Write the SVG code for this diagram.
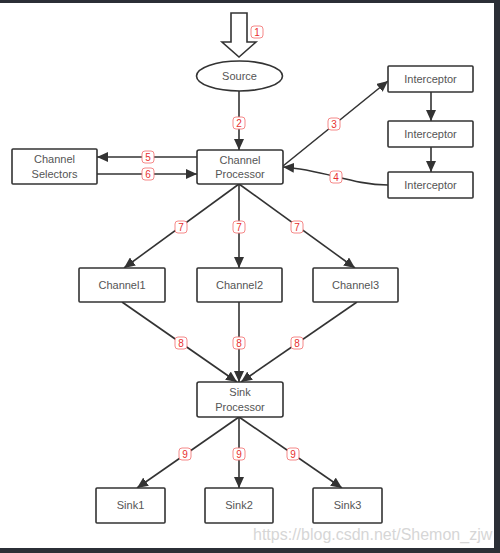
<svg xmlns="http://www.w3.org/2000/svg" width="500" height="553" viewBox="0 0 500 553">
<style>
.box{fill:#fff;stroke:#333;stroke-width:1.6}
.t{font-family:"Liberation Sans",Arial,sans-serif;font-size:11px;fill:#555;text-anchor:middle}
.ln{fill:none;stroke:#333;stroke-width:1.6}
.nb{fill:#fff;stroke:#f47a7a;stroke-width:0.9}
.nt{font-family:"Liberation Sans",Arial,sans-serif;font-size:10px;fill:#e83030;text-anchor:middle}
</style>
<defs>
<marker id="ah" markerUnits="userSpaceOnUse" markerWidth="12" markerHeight="10" refX="11" refY="5" orient="auto">
<path d="M0,0 L11,5 L0,10 z" fill="#333"/>
</marker>
</defs>
<rect x="0" y="0" width="500" height="553" fill="#fff"/>
<rect x="0" y="0" width="500" height="3" fill="#2b2f36"/>
<rect x="494" y="0" width="6" height="553" fill="#2b2f36"/>
<rect x="0" y="548" width="500" height="5" fill="#2b2f36"/>

<g id="connectors">
<path class="ln" d="M239,91 L239,150" marker-end="url(#ah)"/>
<path class="ln" d="M283,166 L388,81" marker-end="url(#ah)"/>
<path class="ln" d="M431,92 L431,121" marker-end="url(#ah)"/>
<path class="ln" d="M431,147 L431,172" marker-end="url(#ah)"/>
<path class="ln" d="M388,185 C352,185 325,170 283,167" marker-end="url(#ah)"/>
<path class="ln" d="M197,157 L97,157" marker-end="url(#ah)"/>
<path class="ln" d="M97,174 L197,174" marker-end="url(#ah)"/>
<path class="ln" d="M239,184 L124,268" marker-end="url(#ah)"/>
<path class="ln" d="M239,184 L239,268" marker-end="url(#ah)"/>
<path class="ln" d="M239,184 L355,268" marker-end="url(#ah)"/>
<path class="ln" d="M122,302 L237,382" marker-end="url(#ah)"/>
<path class="ln" d="M239,302 L239,382" marker-end="url(#ah)"/>
<path class="ln" d="M357,302 L241,382" marker-end="url(#ah)"/>
<path class="ln" d="M239,417 L137,488" marker-end="url(#ah)"/>
<path class="ln" d="M239,417 L239,488" marker-end="url(#ah)"/>
<path class="ln" d="M239,417 L342,488" marker-end="url(#ah)"/>
</g>

<g id="input-arrow">
<path d="M231,13 L247,13 L247,42 L256,42 L239,57 L222,42 L231,42 z" fill="#fff" stroke="#333" stroke-width="1.6" stroke-linejoin="miter"/>
</g>

<g id="labels">
<rect class="nb" x="251" y="26" width="12" height="12" rx="3"/><text class="nt" x="257" y="36">1</text>
<rect class="nb" x="233" y="117" width="12" height="12" rx="3"/><text class="nt" x="239" y="127">2</text>
<rect class="nb" x="328" y="118" width="12" height="12" rx="3"/><text class="nt" x="334" y="128">3</text>
<rect class="nb" x="330" y="171" width="12" height="12" rx="3"/><text class="nt" x="336" y="181">4</text>
<rect class="nb" x="142" y="151" width="12" height="12" rx="3"/><text class="nt" x="148" y="161">5</text>
<rect class="nb" x="142" y="168" width="12" height="12" rx="3"/><text class="nt" x="148" y="178">6</text>
<rect class="nb" x="175" y="221" width="12" height="12" rx="3"/><text class="nt" x="181" y="231">7</text>
<rect class="nb" x="233" y="221" width="12" height="12" rx="3"/><text class="nt" x="239" y="231">7</text>
<rect class="nb" x="291" y="221" width="12" height="12" rx="3"/><text class="nt" x="297" y="231">7</text>
<rect class="nb" x="175" y="337" width="12" height="12" rx="3"/><text class="nt" x="181" y="347">8</text>
<rect class="nb" x="233" y="337" width="12" height="12" rx="3"/><text class="nt" x="239" y="347">8</text>
<rect class="nb" x="291" y="337" width="12" height="12" rx="3"/><text class="nt" x="297" y="347">8</text>
<rect class="nb" x="179" y="448" width="12" height="12" rx="3"/><text class="nt" x="185" y="458">9</text>
<rect class="nb" x="233" y="448" width="12" height="12" rx="3"/><text class="nt" x="239" y="458">9</text>
<rect class="nb" x="287" y="448" width="12" height="12" rx="3"/><text class="nt" x="293" y="458">9</text>
</g>

<g id="source"><ellipse class="box" cx="239.5" cy="76" rx="43" ry="15"/><text class="t" x="239.5" y="80">Source</text></g>
<g id="channel-processor"><rect class="box" x="197" y="150" width="86" height="34" rx="2"/><text class="t" x="240" y="164">Channel</text><text class="t" x="240" y="178">Processor</text></g>
<g id="channel-selectors"><rect class="box" x="12" y="149" width="85" height="35" rx="1"/><text class="t" x="54.5" y="163">Channel</text><text class="t" x="54.5" y="178">Selectors</text></g>
<g id="interceptor1"><rect class="box" x="388" y="66" width="85" height="26" rx="1"/><text class="t" x="430.5" y="83">Interceptor</text></g>
<g id="interceptor2"><rect class="box" x="388" y="121" width="85" height="26" rx="1"/><text class="t" x="430.5" y="138">Interceptor</text></g>
<g id="interceptor3"><rect class="box" x="388" y="172" width="85" height="26" rx="1"/><text class="t" x="430.5" y="189">Interceptor</text></g>
<g id="channel1"><rect class="box" x="79" y="268" width="86" height="34" rx="1"/><text class="t" x="122" y="289">Channel1</text></g>
<g id="channel2"><rect class="box" x="197" y="268" width="85" height="34" rx="1"/><text class="t" x="239.5" y="289">Channel2</text></g>
<g id="channel3"><rect class="box" x="313" y="268" width="85" height="34" rx="1"/><text class="t" x="355.5" y="289">Channel3</text></g>
<g id="sink-processor"><rect class="box" x="197" y="382" width="86" height="35" rx="2"/><text class="t" x="240" y="396">Sink</text><text class="t" x="240" y="411">Processor</text></g>
<g id="sink1"><rect class="box" x="96" y="488" width="69" height="35" rx="1"/><text class="t" x="130.5" y="509">Sink1</text></g>
<g id="sink2"><rect class="box" x="205" y="488" width="68" height="35" rx="1"/><text class="t" x="239" y="509">Sink2</text></g>
<g id="sink3"><rect class="box" x="313" y="488" width="69" height="35" rx="1"/><text class="t" x="347.5" y="509">Sink3</text></g>

<text x="253" y="540" font-family="'Liberation Sans',Arial,sans-serif" font-size="16" fill="#d6d6d6">https://blog.csdn.net/Shemon_zjw</text>
</svg>
